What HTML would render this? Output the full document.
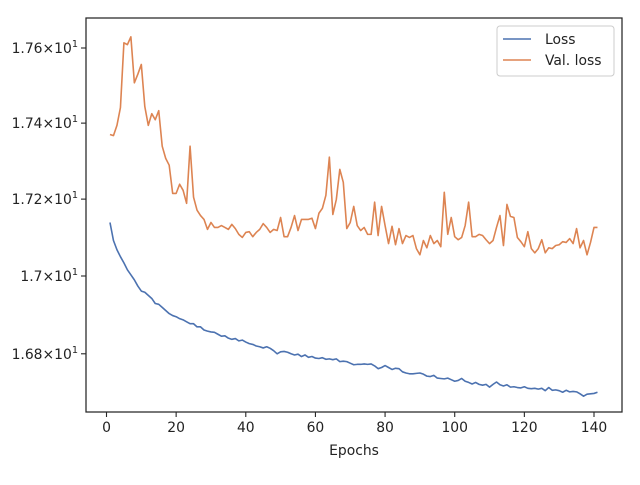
<!DOCTYPE html>
<html><head><meta charset="utf-8"><style>
body{margin:0;background:#fff;}
svg text{font-family:"DejaVu Sans","Liberation Sans",sans-serif;fill:#222;}
</style></head><body>
<svg id="chart" width="640" height="480" xmlns="http://www.w3.org/2000/svg"></svg>
<script>
const lossValues=[17.139,17.092,17.068,17.050,17.034,17.016,17.003,16.990,16.974,16.961,16.958,16.950,16.942,16.929,16.927,16.919,16.911,16.903,16.898,16.895,16.890,16.887,16.882,16.877,16.877,16.869,16.869,16.861,16.858,16.856,
16.855,16.850,16.845,16.846,16.840,16.837,16.839,16.833,16.835,16.830,16.826,16.824,16.820,16.818,16.815,16.818,16.814,16.808,16.800,16.805,
16.806,16.804,16.800,16.797,16.799,16.793,16.797,16.791,16.793,16.789,
16.788,16.790,16.786,16.787,16.785,16.787,16.780,16.781,16.780,16.776,16.772,16.773,16.773,16.774,16.773,16.774,16.769,16.762,16.765,16.770,
16.765,16.760,16.763,16.762,16.754,16.751,16.749,16.749,16.750,16.751,16.748,16.743,16.742,16.745,16.738,16.737,16.736,16.738,16.734,16.730,
16.732,16.737,16.730,16.727,16.723,16.727,16.722,16.720,16.722,16.715,16.722,16.728,16.721,16.718,16.721,16.715,16.716,16.714,16.713,16.716,
16.712,16.711,16.712,16.710,16.712,16.706,16.714,16.707,16.708,16.706,16.702,16.707,16.703,16.704,16.703,16.698,16.692,16.697,16.698,16.699,16.702];
const valLossValues=[17.370,17.367,17.394,17.441,17.614,17.609,17.630,17.507,17.530,17.556,17.444,17.394,17.425,17.409,17.433,17.339,17.307,17.289,17.215,17.215,
17.239,17.223,17.189,17.339,17.205,17.171,17.157,17.147,17.121,17.139,17.126,17.126,17.131,17.126,17.121,17.134,17.123,17.108,17.100,17.113,
17.115,17.102,17.113,17.121,17.136,17.126,17.113,17.121,17.118,17.152,17.102,17.102,17.126,17.157,17.118,17.147,17.147,17.147,17.150,17.123,
17.163,17.176,17.210,17.310,17.160,17.199,17.278,17.244,17.123,17.139,17.181,17.131,17.118,17.126,17.108,17.108,17.192,17.105,17.181,17.131,
17.084,17.129,17.081,17.123,17.084,17.105,17.100,17.105,17.071,17.055,17.092,17.073,17.105,17.084,17.092,17.076,17.218,17.108,17.152,17.102,
17.094,17.100,17.131,17.192,17.102,17.102,17.108,17.105,17.094,17.084,17.092,17.126,17.157,17.079,17.186,17.155,17.152,17.100,17.089,17.076,
17.115,17.071,17.060,17.071,17.094,17.060,17.073,17.071,17.079,17.081,17.089,17.087,17.097,17.084,17.123,17.073,17.092,17.055,17.087,17.126,17.126];
const xTicks=[0,20,40,60,80,100,120,140];
const yTicks=[16.8,17.0,17.2,17.4,17.6];
const yTickLabels=["1.68","1.7","1.72","1.74","1.76"];

const NS="http://www.w3.org/2000/svg";
const svg=document.getElementById('chart');
const L=86,R=622,T=18,B=412;
function xs(e){return 106.5+(e-0)*(594-106.5)/140;}
const lnA=Math.log(17.0),lnB=Math.log(17.6);
function ys(v){return 276-(Math.log(v)-lnA)/(lnB-lnA)*228;}
function mk(tag,attrs,parent){const el=document.createElementNS(NS,tag);for(const k in attrs)el.setAttribute(k,attrs[k]);(parent||svg).appendChild(el);return el;}

const frame=mk('rect',{x:L,y:T,width:R-L,height:B-T,fill:'#fff',stroke:'#262626','stroke-width':1.25});



xTicks.forEach(t=>{
  const x=xs(t);
  const tk=mk('line',{x1:x,x2:x,y1:B,y2:B+5,stroke:'#262626','stroke-width':1.1});
  
  
  const tx=mk('text',{x:x,y:B+20,'text-anchor':'middle','font-size':13.9});
  tx.textContent=t;
  
  
});
yTicks.forEach((t,i)=>{
  const y=ys(t);
  const tk=mk('line',{x1:L-5,x2:L,y1:y,y2:y,stroke:'#262626','stroke-width':1.1});
  
  
  const tx=mk('text',{x:L-8,y:y+5,'text-anchor':'end','font-size':13.9});
  
  
  const a=document.createElementNS(NS,'tspan');a.textContent=yTickLabels[i]+"\u00d710";tx.appendChild(a);
  const s=document.createElementNS(NS,'tspan');s.setAttribute('dy','-6');s.setAttribute('font-size','9.7');s.textContent='1';tx.appendChild(s);
});
const xt=mk('text',{x:(L+R)/2,y:455,'text-anchor':'middle','font-size':13.9});
xt.textContent='Epochs';



function series(vals,color,name){
  const d=vals.map((v,i)=>(i?'L':'M')+xs(i+1).toFixed(2)+','+ys(v).toFixed(2)).join('');
  const p=mk('path',{d:d,fill:'none',stroke:color,'stroke-width':1.6,'stroke-linejoin':'round'});
  
  
}
series(lossValues,'#4c72b0','loss-line');
series(valLossValues,'#dd8452','val-loss-line');

const lg=mk('g',{});


mk('rect',{x:497,y:26,width:117,height:50,rx:3,fill:'#fff','fill-opacity':0.8,stroke:'#ccc'},lg);
[['Loss','#4c72b0',44],['Val. loss','#dd8452',65]].forEach(([n,c,y])=>{
  const e=mk('g',{},lg);
  
  
  mk('line',{x1:503,x2:531,y1:y-5,y2:y-5,stroke:c,'stroke-width':1.6},e);
  const t=mk('text',{x:545,y:y,'font-size':13.9},e);t.textContent=n;
});
</script>
</body></html>
